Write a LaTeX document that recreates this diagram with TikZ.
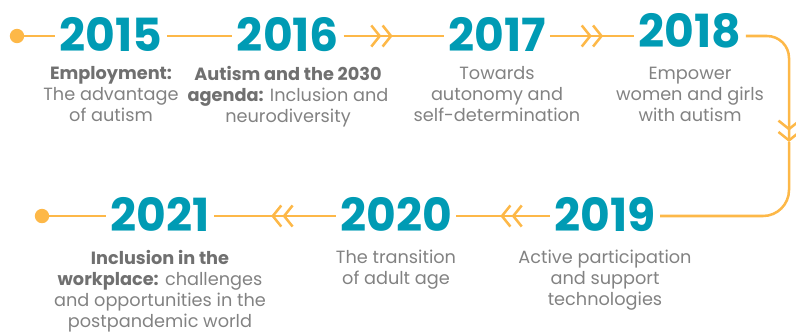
\documentclass[tikz,border=0pt]{standalone}
\usepackage{fontspec}
\setmainfont{Poppins}
\usetikzlibrary{positioning,arrows.meta,decorations.markings}

\definecolor{yearteal}{RGB}{0,155,180}
\definecolor{railorange}{RGB}{253,184,72}
\definecolor{textgray}{RGB}{130,130,130}
\definecolor{boldgray}{RGB}{112,112,112}

\newcommand{\boldlead}[1]{{\bfseries\color{boldgray}#1}}

\tikzset{dblbarb/.tip={Straight Barb[length=6pt,width=15pt,line width=1.8pt] Straight Barb[length=6pt,width=15pt,line width=1.8pt]}}

\begin{document}
\begin{tikzpicture}[
    rail/.style={draw=railorange,line width=1.8pt},
    midtip/.style={postaction={decorate},decoration={markings,mark=at position #1 with {\arrow[railorange]{dblbarb}}}},
    dot/.style={circle,fill=railorange,minimum size=0.36cm,inner sep=0pt},
    year/.style={font=\bfseries\fontsize{32.5}{32.5}\selectfont,text=yearteal,
      text height=22pt,text depth=0pt,inner xsep=3pt,inner ysep=0pt},
    desc/.style={font=\fontsize{12.6}{14.9}\selectfont,text=textgray,align=center,inner sep=0pt}]
  \useasboundingbox (0,0) rectangle (19.9,8.3);
  % top row, left to right
  \node[dot] (start) at (0.425,7.4) {};
  \node[year] (y15) at (2.775,7.4) {2015};
  \node[year] (y16) at (7.2,7.4) {2016};
  \node[year] (y17) at (12.425,7.4) {2017};
  \node[year] (y18) at (17.25,7.5) {2018};
  \node[desc,below=10pt of y15] {\boldlead{Employment:}\\The advantage\\of autism};
  \node[desc,below=10pt of y16] {\boldlead{Autism and the 2030}\\\boldlead{agenda:} Inclusion and\\neurodiversity};
  \node[desc,below=10pt of y17] {Towards\\autonomy and\\self-determination};
  \node[desc,below=13.5pt of y18] {Empower\\women and girls\\with autism};
  % bottom row, right to left
  \node[year] (y19) at (15.125,2.9) {2019};
  \node[year] (y20) at (9.9,2.9) {2020};
  \node[year] (y21) at (4.0,2.9) {2021};
  \node[dot] (finish) at (1.05,2.9) {};
  \node[desc,below=13pt of y19] {Active participation\\and support\\technologies};
  \node[desc,below=13pt of y20] {The transition\\of adult age};
  \node[desc,below=13pt of y21] {\boldlead{Inclusion in the}\\\boldlead{workplace:} challenges\\and opportunities in the\\postpandemic world};
  % the rail
  \coordinate (ne) at (19.725,7.4);
  \coordinate (dn) at (19.725,4.75);
  \coordinate (se) at (19.725,2.9);
  \draw[rail] (start) -- (y15.west);
  \draw[rail] (y15.east) -- (y16.west);
  \draw[rail,midtip=0.49] (y16.east) -- (y17.west);
  \draw[rail,midtip=0.63] (y17.east) -- (y18.west |- y17.east);
  \draw[rail,rounded corners=0.55cm,-{dblbarb}] (y18.east |- y17.east) -- (ne) -- (dn);
  \draw[rail,rounded corners=0.65cm] (dn) -- (se) -- (y19.east);
  \draw[rail,midtip=0.53] (y19.west) -- (y20.east);
  \draw[rail,midtip=0.53] (y20.west) -- (y21.east);
  \draw[rail] (y21.west) -- (finish);
\end{tikzpicture}
\end{document}
